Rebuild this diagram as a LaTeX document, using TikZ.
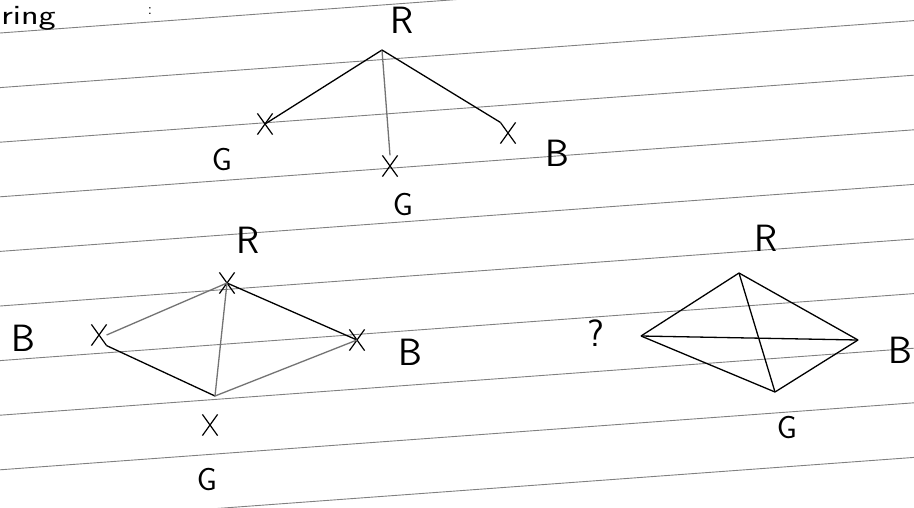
\documentclass[tikz,border=0pt]{standalone}
\usetikzlibrary{shapes.misc}
\begin{document}
\begin{tikzpicture}[x=1pt,y=-1pt,
  rule/.style={black!50, line width=0.9pt},
  edge/.style={black, line width=1.3pt},
  faint/.style={black!55, line width=1.3pt},
  xm/.style={cross out, draw=black, line width=1.2pt, minimum width=14pt, minimum height=20pt, inner sep=0pt},
  lbl/.style={font=\sffamily\fontsize{38}{38}\selectfont, inner sep=0pt},
  slbl/.style={font=\sffamily\fontsize{32}{32}\selectfont, inner sep=0pt}]
\useasboundingbox (0,0) rectangle (914,507);
\fill[white] (0,0) rectangle (914,507);
% ruled paper
\begin{scope}
\clip (0,0) rectangle (914,507);
\foreach \i in {0,...,9}{
  \pgfmathsetmacro{\yl}{33+54.6*\i}
  \pgfmathsetmacro{\yr}{\yl-67}
  \draw[rule] (0,\yl) -- (914,\yr);
}
\end{scope}
% heading fragment
\node[font=\sffamily\fontsize{28}{28}\selectfont, anchor=base west, inner sep=0pt, xscale=1.3] (ring) at (1,24) {ring};
\node[font=\sffamily\fontsize{16}{16}\selectfont, inner sep=0pt] (colon) at (150,11) {:};
% top tree
\coordinate (ta) at (382,50);
\node[xm] (tgx) at (265,124) {};
\node[xm] (tmx) at (390,166) {};
\node[xm] (tbx) at (508,133) {};
\draw[edge] (ta) -- (tgx.center);
\draw[faint] (ta) -- (tmx.north);
\draw[edge] (ta) -- (tbx.north west);
\node[lbl] (tR) at (402,20) {R};
\node[slbl] (tG1) at (222,160) {G};
\node[slbl] (tG2) at (403,205) {G};
\node[lbl] (tB) at (557,153) {B};
% lower left diamond
\node[xm] (lt) at (227,283) {};
\node[xm] (ll) at (99,335) {};
\node[xm] (lr) at (357,340) {};
\coordinate (lb) at (215,396);
\node[xm] (lbx) at (210,425) {};
\draw[faint] (ll.east) -- (lt.center);
\draw[edge] (ll.south east) -- (lb);
\draw[edge] (lt.center) -- (lr.center);
\draw[faint] (lb) -- (lr.center);
\draw[faint] (lt.center) -- (lb);
\node[lbl] (lR) at (248,240) {R};
\node[lbl] (lB1) at (23,338) {B};
\node[lbl] (lB2) at (410,352) {B};
\node[slbl] (lG) at (207,480) {G};
% right diamond
\coordinate (rt) at (739,273);
\coordinate (rl) at (641,336);
\coordinate (rr) at (858,340);
\coordinate (rb) at (775,392);
\draw[edge] (rl) -- (rt);
\draw[edge] (rt) -- (rr);
\draw[edge] (rr) -- (rb);
\draw[edge] (rb) -- (rl);
\draw[edge] (rl) -- (rr);
\draw[edge] (rt) -- (rb);
\node[lbl] (rR) at (766,238) {R};
\node[lbl] (rQ) at (596,333) {?};
\node[lbl] (rB) at (900,350) {B};
\node[slbl] (rG) at (787,428) {G};
\end{tikzpicture}
\end{document}
